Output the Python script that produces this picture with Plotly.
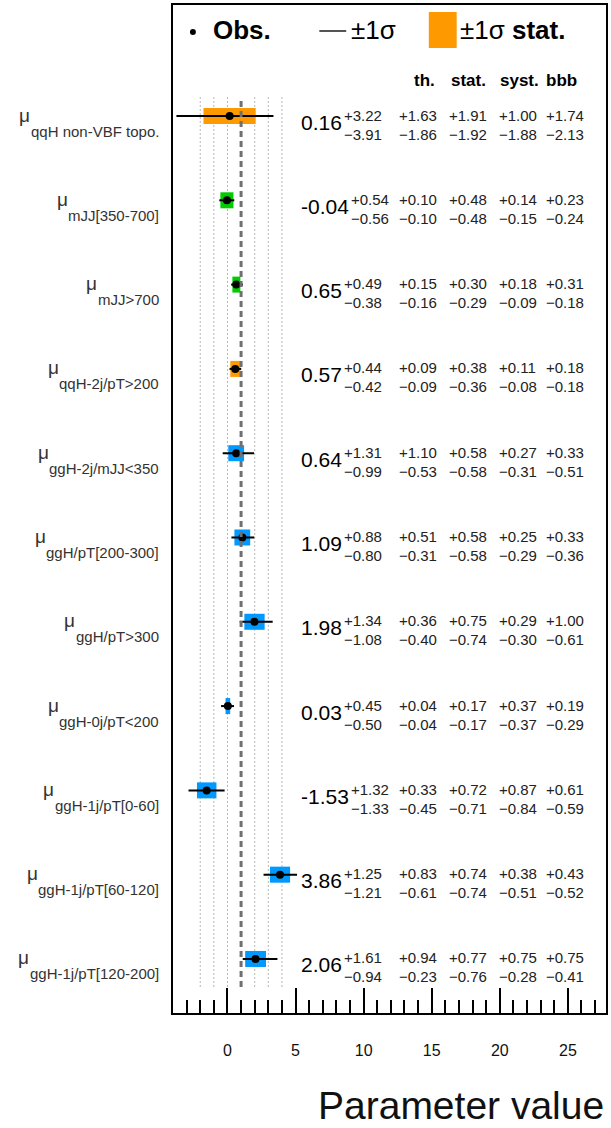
import plotly.graph_objects as go

# ---------------------------------------------------------------- data
subscripts = ["qqH non-VBF topo.", "mJJ[350-700]", "mJJ>700", "qqH-2j/pT>200",
              "ggH-2j/mJJ<350", "ggH/pT[200-300]", "ggH/pT>300", "ggH-0j/pT<200",
              "ggH-1j/pT[0-60]", "ggH-1j/pT[60-120]", "ggH-1j/pT[120-200]"]
process = ["qqH", "VBF", "VBF", "qqH", "ggH", "ggH", "ggH", "ggH", "ggH", "ggH", "ggH"]

mu = [0.16, -0.04, 0.65, 0.57, 0.64, 1.09, 1.98, 0.03, -1.53, 3.86, 2.06]
tot_up = [3.22, 0.54, 0.49, 0.44, 1.31, 0.88, 1.34, 0.45, 1.32, 1.25, 1.61]
tot_dn = [3.91, 0.56, 0.38, 0.42, 0.99, 0.80, 1.08, 0.50, 1.33, 1.21, 0.94]
th_up = [1.63, 0.10, 0.15, 0.09, 1.10, 0.51, 0.36, 0.04, 0.33, 0.83, 0.94]
th_dn = [1.86, 0.10, 0.16, 0.09, 0.53, 0.31, 0.40, 0.04, 0.45, 0.61, 0.23]
stat_up = [1.91, 0.48, 0.30, 0.38, 0.58, 0.58, 0.75, 0.17, 0.72, 0.74, 0.77]
stat_dn = [1.92, 0.48, 0.29, 0.36, 0.58, 0.58, 0.74, 0.17, 0.71, 0.74, 0.76]
syst_up = [1.00, 0.14, 0.18, 0.11, 0.27, 0.25, 0.29, 0.37, 0.87, 0.38, 0.75]
syst_dn = [1.88, 0.15, 0.09, 0.08, 0.31, 0.29, 0.30, 0.37, 0.84, 0.51, 0.28]
bbb_up = [1.74, 0.23, 0.31, 0.18, 0.33, 0.33, 1.00, 0.19, 0.61, 0.43, 0.75]
bbb_dn = [2.13, 0.24, 0.18, 0.18, 0.51, 0.36, 0.61, 0.29, 0.59, 0.52, 0.41]

columns = ["th.", "stat.", "syst.", "bbb"]
grid_x = [-2, -1, 0, 2, 3, 4]
sm_value = 1
x_range = [-4, 27.8]

# ---------------------------------------------------------------- styling
proc_color = {"qqH": "#FF9900", "VBF": "#00CC00", "ggH": "#0099FF"}
FONT = "Liberation Sans, Arial, Helvetica, sans-serif"

W, H = 611, 1128
ML, MR, MT, MB = 173, 3, 5, 115
PW, PH = W - ML - MR, H - MT - MB


def xp(px):
    return (px - ML) / PW


def yp(py):
    return (H - MB - py) / PH


# Arial advance widths (1/1000 em) for measuring label strings
_AW = {" ": 278, "-": 333, ".": 278, "/": 278, "[": 278, "]": 278, "<": 584, ">": 584,
       "+": 584, "\u2212": 584}
_AW.update({d: 556 for d in "0123456789"})
_AW.update(dict(zip("abcdefghijklmnopqrstuvwxyz",
                    [556, 556, 500, 556, 556, 278, 556, 556, 222, 222, 500, 222, 833,
                     556, 556, 556, 556, 333, 500, 278, 556, 500, 722, 500, 500, 500])))
_AW.update(dict(zip("ABCDEFGHIJKLMNOPQRSTUVWXYZ",
                    [667, 667, 722, 722, 667, 611, 778, 722, 278, 500, 667, 556, 833,
                     722, 778, 667, 778, 722, 667, 611, 722, 667, 944, 667, 667, 611])))


def text_width(s, size):
    return sum(_AW.get(c, 556) for c in s) * size / 1000.0


n = len(mu)
rows = [n - i for i in range(n)]  # first entry at the top

fig = go.Figure()

# stat. uncertainty boxes
fig.add_trace(go.Bar(
    orientation="h",
    y=rows,
    x=[u + d for u, d in zip(stat_up, stat_dn)],
    base=[m - d for m, d in zip(mu, stat_dn)],
    width=0.19,
    marker=dict(color=[proc_color[p] for p in process], line=dict(width=0)),
    hoverinfo="skip",
))

# observed value with total uncertainty (on the tick-mark axis, drawn on top)
fig.add_trace(go.Scatter(
    x=mu, y=rows, mode="markers", xaxis="x2", yaxis="y",
    marker=dict(color="black", size=8),
    error_x=dict(type="data", symmetric=False, array=tot_up, arrayminus=tot_dn,
                 width=0, thickness=2, color="black"),
    hoverinfo="skip",
))

shapes = []
y_top, y_bot = 11.225, 0.668
for gx in grid_x:
    shapes.append(dict(type="line", xref="x", yref="y", x0=gx, x1=gx, y0=y_bot, y1=y_top,
                       line=dict(color="#B4B4B4", width=1, dash="2px,2px"), layer="below"))
shapes.append(dict(type="line", xref="x", yref="y", x0=sm_value, x1=sm_value, y0=y_bot, y1=y_top,
                   line=dict(color="#707070", width=3, dash="6px,4px"), layer="above"))

# legend
shapes.append(dict(type="circle", xref="paper", yref="paper", x0=xp(190), x1=xp(196),
                   y0=yp(35), y1=yp(29), fillcolor="black", line=dict(width=0)))
shapes.append(dict(type="line", xref="paper", yref="paper", x0=xp(320), x1=xp(347),
                   y0=yp(31), y1=yp(31), line=dict(color="#555555", width=2)))
shapes.append(dict(type="rect", xref="paper", yref="paper", x0=xp(430), x1=xp(458),
                   y0=yp(48), y1=yp(12), fillcolor="#FF9900", line=dict(width=0)))

ann = []


def add_text(text, x, y, size, xanchor="left", color="black", yref="paper", yshift=0):
    ann.append(dict(text=text, x=x, y=y, xref="paper", yref=yref, xanchor=xanchor,
                    yanchor="middle", yshift=yshift, showarrow=False,
                    font=dict(family=FONT, size=size, color=color)))


add_text("<b>Obs.</b>", xp(211), yp(30), 26)
add_text("\u00b11\u03c3", xp(350), yp(30), 26)
add_text("\u00b11\u03c3 <b>stat.</b>", xp(459), yp(30), 26)

# column headers
add_text("<b>%s</b>" % columns[0], xp(438), yp(81), 17, xanchor="right")
for name, px in zip(columns[1:], [450, 499, 546]):
    add_text("<b>%s</b>" % name, xp(px), yp(81), 17)


def fmt(v, sign):
    return ("+" if sign > 0 else "\u2212") + "%.2f" % v


col_x = [398, 448, 498, 546]
for i in range(n):
    r = rows[i]
    # parameter label: mu with a lowered subscript
    sub = subscripts[i]
    add_text(sub, xp(161), r, 15, xanchor="right", color="#333333", yref="y", yshift=-15)
    mu_right = 161 - text_width(sub, 15) - 1
    add_text("\u03bc", xp(mu_right), r, 19, xanchor="right", color="#333333", yref="y", yshift=1)

    # best-fit value with total uncertainty
    main = "%.2f" % mu[i]
    add_text(main, xp(300), r, 21, yref="y", yshift=-6)
    sx = 300 + text_width(main, 21) + 2
    add_text(fmt(tot_up[i], 1), xp(sx), r, 15, yref="y", yshift=1, color="#222222")
    add_text(fmt(tot_dn[i], -1), xp(sx), r, 15, yref="y", yshift=-18, color="#222222")

    # breakdown of the uncertainty
    for cx, up, dn in zip(col_x, [th_up, stat_up, syst_up, bbb_up],
                          [th_dn, stat_dn, syst_dn, bbb_dn]):
        add_text(fmt(up[i], 1), xp(cx), r, 15, yref="y", yshift=1, color="#222222")
        add_text(fmt(dn[i], -1), xp(cx), r, 15, yref="y", yshift=-18, color="#222222")

# axis title
add_text("Parameter value", xp(608), yp(1105), 39, xanchor="right", color="#111111")

fig.update_layout(
    width=W, height=H,
    margin=dict(l=ML, r=MR, t=MT, b=MB),
    paper_bgcolor="white", plot_bgcolor="white",
    showlegend=False,
    shapes=shapes, annotations=ann,
    font=dict(family=FONT, color="black"),
    # labelled axis: transparent outside ticks keep the numbers clear of the frame
    xaxis=dict(range=x_range, showgrid=False, zeroline=False,
               showline=True, mirror=True, linecolor="black", linewidth=2,
               ticks="outside", ticklen=22, tickcolor="rgba(0,0,0,0)",
               tick0=0, dtick=5, tickfont=dict(size=16, color="#111111")),
    # tick marks drawn inside the frame
    xaxis2=dict(range=x_range, overlaying="x", anchor="y", side="bottom",
                showgrid=False, zeroline=False, showline=False, showticklabels=False,
                ticks="inside", ticklen=25, tickwidth=2, tickcolor="black",
                tick0=0, dtick=5,
                minor=dict(dtick=1, tick0=0, ticks="inside", ticklen=13,
                           tickwidth=2, tickcolor="black", showgrid=False)),
    yaxis=dict(range=[0.359, 12.317], showgrid=False, zeroline=False,
               showticklabels=False, ticks="",
               showline=True, mirror=True, linecolor="black", linewidth=2),
)

fig.write_html("out.html")
